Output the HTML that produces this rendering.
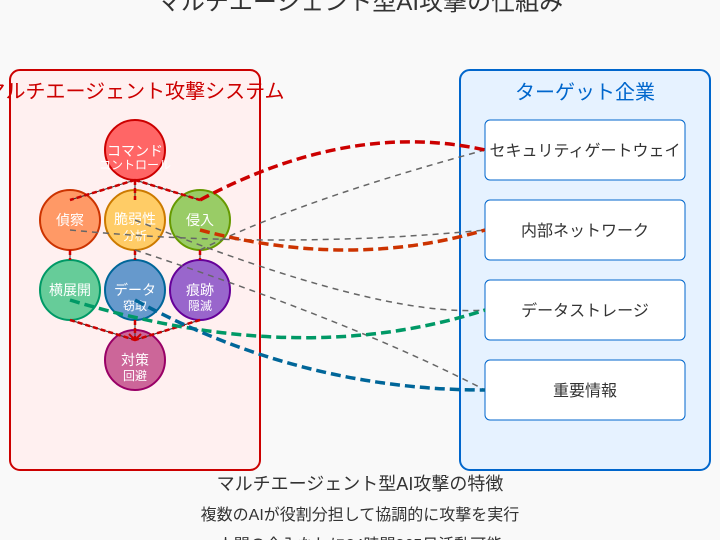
<!DOCTYPE html>
<html>
<head>
<meta charset="utf-8">
<style>
  html,body{margin:0;padding:0;background:#f9f9f9;}
  svg{display:block;}
  text{font-family:"Liberation Sans","Noto Sans CJK JP",sans-serif;}
</style>
</head>
<body>
<svg width="720" height="540" viewBox="0 0 720 540" xmlns="http://www.w3.org/2000/svg">
  <rect x="0" y="0" width="720" height="540" fill="#f9f9f9"/>

  <!-- Title -->
  <text x="360" y="10" font-size="24" fill="#333" text-anchor="middle">マルチエージェント型AI攻撃の仕組み</text>

  <!-- Left system box -->
  <rect x="10" y="70" width="250" height="400" rx="10" ry="10" fill="#fff0f0" stroke="#cc0000" stroke-width="2"/>
  <text x="135" y="98" font-size="20" fill="#cc0000" text-anchor="middle">マルチエージェント攻撃システム</text>

  <!-- Right target box -->
  <rect x="460" y="70" width="250" height="400" rx="10" ry="10" fill="#e6f2ff" stroke="#0066cc" stroke-width="2"/>
  <text x="585" y="99" font-size="20" fill="#0066cc" text-anchor="middle">ターゲット企業</text>

  <!-- Target boxes -->
  <rect x="485" y="120" width="200" height="60" rx="5" ry="5" fill="#ffffff" stroke="#0066cc" stroke-width="1"/>
  <text x="585" y="156" font-size="16" fill="#333" text-anchor="middle">セキュリティゲートウェイ</text>
  <rect x="485" y="200" width="200" height="60" rx="5" ry="5" fill="#ffffff" stroke="#0066cc" stroke-width="1"/>
  <text x="585" y="236" font-size="16" fill="#333" text-anchor="middle">内部ネットワーク</text>
  <rect x="485" y="280" width="200" height="60" rx="5" ry="5" fill="#ffffff" stroke="#0066cc" stroke-width="1"/>
  <text x="585" y="316" font-size="16" fill="#333" text-anchor="middle">データストレージ</text>
  <rect x="485" y="360" width="200" height="60" rx="5" ry="5" fill="#ffffff" stroke="#0066cc" stroke-width="1"/>
  <text x="585" y="396" font-size="16" fill="#333" text-anchor="middle">重要情報</text>

  <!-- Agent nodes -->
  <g stroke-width="2">
    <circle cx="135" cy="150" r="30" fill="#ff6666" stroke="#cc0000"/>
    <circle cx="70" cy="220" r="30" fill="#ff9966" stroke="#cc3300"/>
    <circle cx="135" cy="220" r="30" fill="#ffcc66" stroke="#cc7a00"/>
    <circle cx="200" cy="220" r="30" fill="#99cc66" stroke="#669900"/>
    <circle cx="70" cy="290" r="30" fill="#66cc99" stroke="#009966"/>
    <circle cx="135" cy="290" r="30" fill="#6699cc" stroke="#006699"/>
    <circle cx="200" cy="290" r="30" fill="#9966cc" stroke="#660099"/>
    <circle cx="135" cy="360" r="30" fill="#cc6699" stroke="#990066"/>
  </g>

  <!-- Node labels -->
  <g fill="#ffffff" text-anchor="middle">
    <text x="135" y="156" font-size="14">コマンド</text>
    <text x="135" y="169" font-size="12">コントロール</text>
    <text x="70" y="225" font-size="14">偵察</text>
    <text x="135" y="224" font-size="14">脆弱性</text>
    <text x="135" y="240" font-size="12">分析</text>
    <text x="200" y="225" font-size="14">侵入</text>
    <text x="70" y="295" font-size="14">横展開</text>
    <text x="135" y="295" font-size="14">データ</text>
    <text x="135" y="310" font-size="12">窃取</text>
    <text x="200" y="295" font-size="14">痕跡</text>
    <text x="200" y="310" font-size="12">隠滅</text>
    <text x="135" y="365" font-size="14">対策</text>
    <text x="135" y="380" font-size="12">回避</text>
  </g>

  <!-- Internal connectors: black base + red dashed overlay -->
  <g fill="none">
    <g stroke="#333" stroke-width="1">
      <line x1="135" y1="180" x2="70" y2="200"/>
      <line x1="135" y1="180" x2="135" y2="200"/>
      <line x1="135" y1="180" x2="200" y2="200"/>
      <line x1="70" y1="250" x2="70" y2="260"/>
      <line x1="135" y1="250" x2="135" y2="260"/>
      <line x1="200" y1="250" x2="200" y2="260"/>
      <line x1="70" y1="320" x2="135" y2="340"/>
      <line x1="135" y1="320" x2="135" y2="340"/>
      <line x1="200" y1="320" x2="135" y2="340"/>
    </g>
    <g stroke="#cc0000" stroke-width="2.5" stroke-dasharray="5,3">
      <line x1="135" y1="180" x2="70" y2="200"/>
      <line x1="135" y1="180" x2="135" y2="200"/>
      <line x1="135" y1="180" x2="200" y2="200"/>
      <line x1="70" y1="250" x2="70" y2="260"/>
      <line x1="135" y1="250" x2="135" y2="260"/>
      <line x1="200" y1="250" x2="200" y2="260"/>
      <line x1="70" y1="320" x2="135" y2="340"/>
      <line x1="135" y1="320" x2="135" y2="340"/>
      <line x1="200" y1="320" x2="135" y2="340"/>
    </g>
    <path d="M129,334 L135,340 L141,334" stroke="#cc0000" stroke-width="2"/>
  </g>

  <!-- Gray info lines -->
  <g fill="none" stroke="#666" stroke-width="1.5" stroke-dasharray="6,5">
    <path d="M70,230 Q280,250 485,230"/>
    <path d="M135,220 Q380,318 485,310"/>
    <path d="M135,250 Q356,323 485,390"/>
    <path d="M200,250 Q300,200 485,150"/>
  </g>

  <!-- Attack paths -->
  <g fill="none" stroke-width="3.5" stroke-dasharray="10,5">
    <path d="M200,200 Q350,120 485,150" stroke="#cc0000"/>
    <path d="M200,230 Q350,270 485,230" stroke="#cc3300"/>
    <path d="M70,300 Q300,370 485,310" stroke="#009966"/>
    <path d="M135,300 Q300,390 485,390" stroke="#006699"/>
  </g>

  <!-- Bottom text -->
  <text x="360" y="490" font-size="18" fill="#333" text-anchor="middle">マルチエージェント型AI攻撃の特徴</text>
  <text x="360" y="520" font-size="16" fill="#333" text-anchor="middle">複数のAIが役割分担して協調的に攻撃を実行</text>
  <text x="360" y="550" font-size="16" fill="#333" text-anchor="middle">人間の介入なしに24時間365日活動可能</text>
</svg>
</body>
</html>
